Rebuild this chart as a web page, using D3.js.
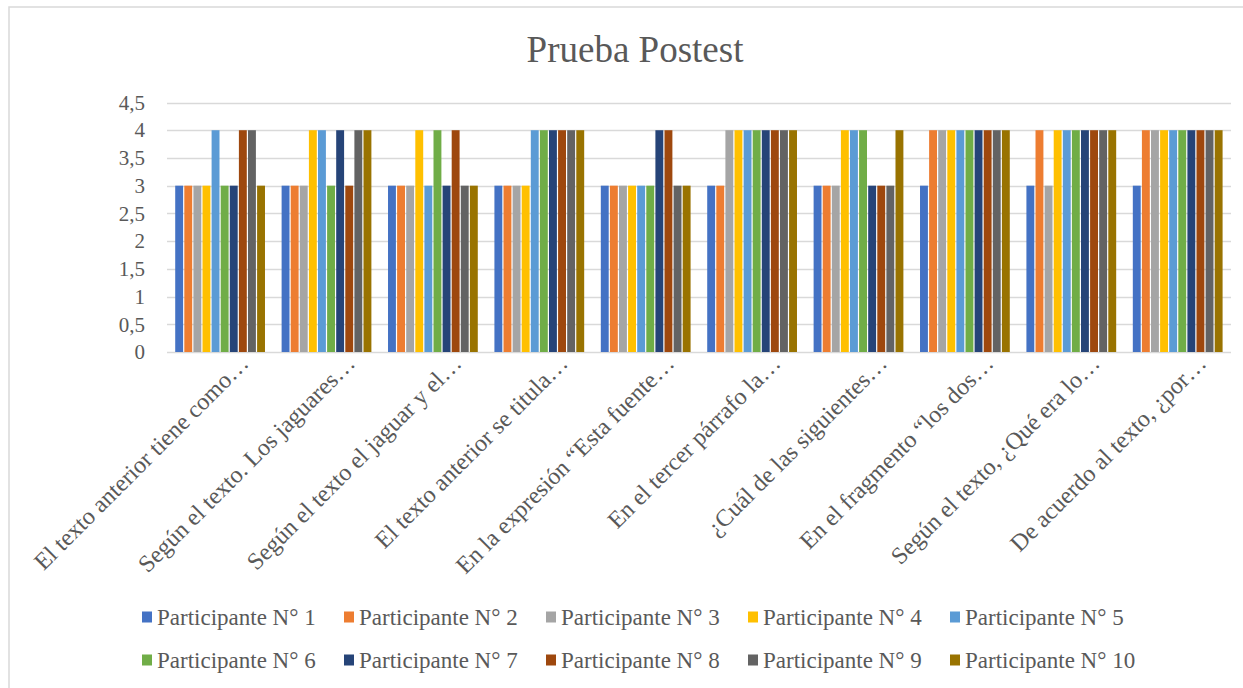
<!DOCTYPE html>
<html>
<head>
<meta charset="utf-8">
<script src="https://cdnjs.cloudflare.com/ajax/libs/d3/7.8.5/d3.min.js"></script>
<style>
    body { margin: 0; background: #fff; }
    text { font-family: "Liberation Serif", "Times New Roman", serif; fill: #595959; }
</style>
</head>
<body>
<svg width="1243" height="688"></svg>
<script>
// datos
let categories = [
    "El texto anterior tiene como…",
    "Según el texto. Los jaguares…",
    "Según el texto el jaguar y el…",
    "El texto anterior se titula…",
    "En la expresión “Esta fuente…",
    "En el tercer párrafo la…",
    "¿Cuál de las siguientes…",
    "En el fragmento “los dos…",
    "Según el texto, ¿Qué era lo…",
    "De acuerdo al texto, ¿por…"
];
let participants = ["Participante N° 1", "Participante N° 2", "Participante N° 3", "Participante N° 4", "Participante N° 5",
    "Participante N° 6", "Participante N° 7", "Participante N° 8", "Participante N° 9", "Participante N° 10"];
let p1 = [3, 3, 3, 3, 3, 3, 3, 3, 3, 3];
let p2 = [3, 3, 3, 3, 3, 3, 3, 4, 4, 4];
let p3 = [3, 3, 3, 3, 3, 4, 3, 4, 3, 4];
let p4 = [3, 4, 4, 3, 3, 4, 4, 4, 4, 4];
let p5 = [4, 4, 3, 4, 3, 4, 4, 4, 4, 4];
let p6 = [3, 3, 4, 4, 3, 4, 4, 4, 4, 4];
let p7 = [3, 4, 3, 4, 4, 4, 3, 4, 4, 4];
let p8 = [4, 3, 4, 4, 4, 4, 3, 4, 4, 4];
let p9 = [4, 4, 3, 4, 3, 4, 3, 4, 4, 4];
let p10 = [3, 4, 3, 4, 3, 4, 4, 4, 4, 4];
let yTicks = [0, 0.5, 1, 1.5, 2, 2.5, 3, 3.5, 4, 4.5];

let series = [p1, p2, p3, p4, p5, p6, p7, p8, p9, p10];
let colors = ["#4472C4", "#ED7D31", "#A5A5A5", "#FFC000", "#5B9BD5",
    "#70AD47", "#264478", "#9E480E", "#636363", "#997300"];

let svg = d3.select("svg");

// marco del grafico
svg.append("rect")
    .attr("x", 9).attr("y", 7)
    .attr("width", 1250).attr("height", 700)
    .attr("fill", "none")
    .attr("stroke", "#d9d9d9")
    .attr("stroke-width", 1.5);

let plotLeft = 167, plotRight = 1231, plotTop = 102.5, plotBottom = 352;

let x0 = d3.scaleBand()
    .domain(categories)
    .range([plotLeft, plotRight])
    .paddingInner(0.145)
    .paddingOuter(0.0725);

let x1 = d3.scaleBand()
    .domain(d3.range(participants.length))
    .range([0, x0.bandwidth()]);

let y = d3.scaleLinear()
    .domain([0, 4.5])
    .range([plotBottom, plotTop]);

let fmt = d => String(d).replace(".", ",");

// lineas de division
svg.append("g")
    .selectAll("line")
    .data(yTicks)
    .enter().append("line")
    .attr("x1", plotLeft).attr("x2", plotRight)
    .attr("y1", d => Math.round(y(d)) + 0.5)
    .attr("y2", d => Math.round(y(d)) + 0.5)
    .attr("stroke", "#d9d9d9")
    .attr("stroke-width", 1.3);

let yAxis = d3.axisLeft(y).tickValues(yTicks).tickFormat(fmt).tickSize(0).tickPadding(22);
let gy = svg.append("g")
    .attr("transform", "translate(" + plotLeft + ",0)")
    .call(yAxis);
gy.select(".domain").remove();
gy.selectAll("text")
    .style("font-size", "21px")
    .style("font-family", "Liberation Serif")
    .attr("fill", "#595959");

// barras
let groups = svg.append("g")
    .selectAll("g")
    .data(categories)
    .enter().append("g")
    .attr("transform", d => "translate(" + x0(d) + ",0)");

groups.selectAll("rect")
    .data((c, ci) => series.map((s, si) => ({ si: si, v: s[ci] })))
    .enter().append("rect")
    .attr("x", d => x1(d.si) + 0.5)
    .attr("width", x1.bandwidth() - 1.2)
    .attr("y", d => y(d.v))
    .attr("height", d => y(0) - y(d.v))
    .attr("fill", d => colors[d.si]);

// etiquetas de categoria
svg.append("g")
    .selectAll("text")
    .data(categories)
    .enter().append("text")
    .attr("transform", d => "translate(" + (x0(d) + x0.bandwidth() / 2 + 18) + "," + (plotBottom + 1) + ") rotate(-45)")
    .attr("text-anchor", "end")
    .attr("dy", "0.7em")
    .style("font-size", "24px")
    .text(d => d);

// titulo
svg.append("text")
    .attr("x", 635)
    .attr("y", 62)
    .attr("text-anchor", "middle")
    .style("font-size", "37px")
    .text("Prueba Postest");

// leyenda
let legend = svg.append("g")
    .selectAll("g")
    .data(participants)
    .enter().append("g")
    .attr("transform", (d, i) => "translate(" + (142 + (i % 5) * 202) + "," + (i < 5 ? 617 : 660) + ")");

legend.append("rect")
    .attr("x", 0).attr("y", -5.5)
    .attr("width", 10).attr("height", 11)
    .attr("fill", (d, i) => colors[i]);

legend.append("text")
    .attr("x", 15)
    .attr("dy", "0.35em")
    .style("font-size", "23px")
    .text(d => d);
</script>
</body>
</html>
